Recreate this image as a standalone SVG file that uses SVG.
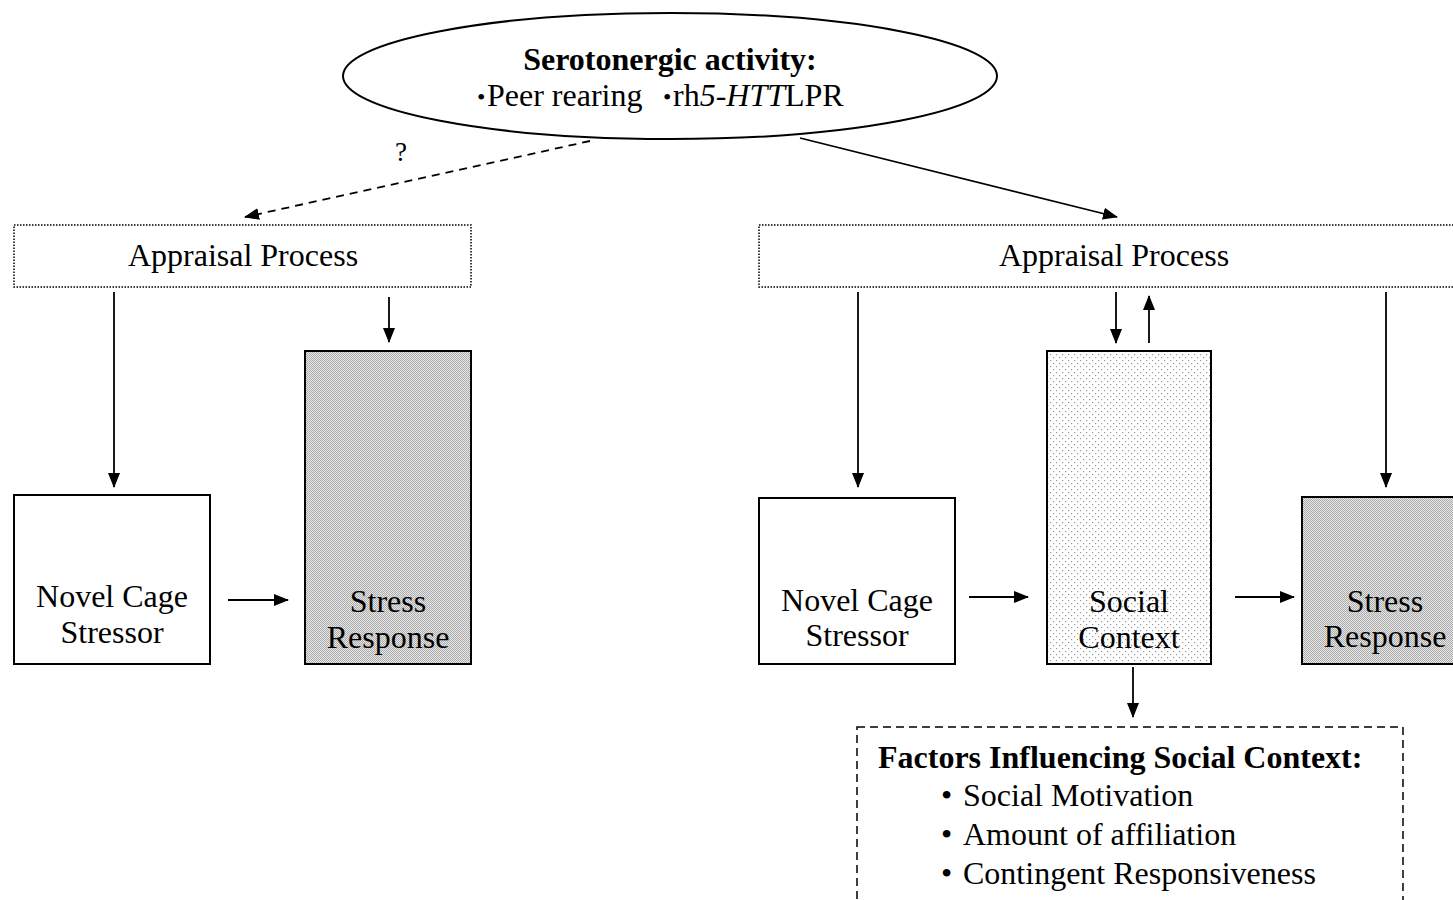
<svg xmlns="http://www.w3.org/2000/svg" width="1453" height="900" viewBox="0 0 1453 900">
<style>
text{font-family:"Liberation Serif","Times New Roman",serif;fill:#000}
.t{font-size:32px;text-anchor:middle}
.f{font-size:32px}
.b{font-weight:bold}
.box{stroke:#000;stroke-width:2}
.dot{fill:#fff;stroke:#000;stroke-width:1.5;stroke-dasharray:1.5 1.5}
.con{stroke:#000;stroke-width:1.8;fill:none}
</style>
<defs>
<marker id="ah" markerUnits="userSpaceOnUse" markerWidth="15" markerHeight="15" viewBox="0 0 15 15" refX="14" refY="7.5" orient="auto">
<path d="M0,1.5 L15,7.5 L0,13.5 Z" fill="#000"/>
</marker>
<pattern id="gray" width="2" height="2" patternUnits="userSpaceOnUse">
<rect width="2" height="2" fill="#e6e6e6"/>
<rect width="1" height="1" fill="#acacac"/>
<rect x="1" y="1" width="1" height="1" fill="#acacac"/>
</pattern>
<pattern id="dots" width="6" height="6" patternUnits="userSpaceOnUse">
<rect width="6" height="6" fill="#fff"/>
<rect x="0" y="0" width="1.2" height="1.2" fill="#999"/>
<rect x="3" y="3" width="1.2" height="1.2" fill="#999"/>
</pattern>
</defs>
<rect width="1453" height="900" fill="#fff"/>

<g id="connectors">
<line class="con" x1="590" y1="141" x2="245" y2="217" stroke-dasharray="8 6" marker-end="url(#ah)"/>
<line class="con" x1="800" y1="138" x2="1117" y2="217" marker-end="url(#ah)"/>
<line class="con" x1="114" y1="292" x2="114" y2="487" marker-end="url(#ah)"/>
<line class="con" x1="389" y1="297" x2="389" y2="342" marker-end="url(#ah)"/>
<line class="con" x1="228" y1="600" x2="288" y2="600" marker-end="url(#ah)"/>
<line class="con" x1="858" y1="292" x2="858" y2="487" marker-end="url(#ah)"/>
<line class="con" x1="1116" y1="292" x2="1116" y2="343" marker-end="url(#ah)"/>
<line class="con" x1="1149" y1="343" x2="1149" y2="296" marker-end="url(#ah)"/>
<line class="con" x1="1386" y1="292" x2="1386" y2="487" marker-end="url(#ah)"/>
<line class="con" x1="969" y1="597" x2="1028" y2="597" marker-end="url(#ah)"/>
<line class="con" x1="1235" y1="597" x2="1294" y2="597" marker-end="url(#ah)"/>
<line class="con" x1="1133" y1="667" x2="1133" y2="717" marker-end="url(#ah)"/>
<text x="401" y="161" style="font-size:27px" text-anchor="middle">?</text>
</g>

<g id="serotonergic">
<ellipse cx="670" cy="76" rx="327" ry="63" fill="#fff" stroke="#000" stroke-width="2"/>
<text x="670" y="70" class="t b">Serotonergic activity:</text>
<text y="106" class="f"><tspan x="477" font-size="24" dy="-1">•</tspan><tspan x="487" dy="1">Peer rearing</tspan><tspan x="663" font-size="24" dy="-1">•</tspan><tspan x="673" dy="1">rh</tspan><tspan font-style="italic">5-HTT</tspan><tspan>LPR</tspan></text>
</g>

<g id="appraisal-left">
<rect class="dot" x="14" y="225" width="457" height="62"/>
<text x="243" y="266" class="t">Appraisal Process</text>
</g>

<g id="appraisal-right">
<rect class="dot" x="759" y="225" width="700" height="62"/>
<text x="1114" y="266" class="t">Appraisal Process</text>
</g>

<g id="novel-left">
<rect class="box" x="14" y="495" width="196" height="169" fill="#fff"/>
<text x="112" y="607" class="t">Novel Cage</text>
<text x="112" y="643" class="t">Stressor</text>
</g>

<g id="stress-left">
<rect class="box" x="305" y="351" width="166" height="313" fill="url(#gray)"/>
<text x="388" y="612" class="t">Stress</text>
<text x="388" y="648" class="t">Response</text>
</g>

<g id="novel-right">
<rect class="box" x="759" y="498" width="196" height="166" fill="#fff"/>
<text x="857" y="611" class="t">Novel Cage</text>
<text x="857" y="646" class="t">Stressor</text>
</g>

<g id="social-context">
<rect class="box" x="1047" y="351" width="164" height="313" fill="url(#dots)"/>
<text x="1129" y="612" class="t">Social</text>
<text x="1129" y="648" class="t">Context</text>
</g>

<g id="stress-right">
<rect class="box" x="1302" y="497" width="160" height="167" fill="url(#gray)"/>
<text x="1385" y="612" class="t">Stress</text>
<text x="1385" y="647" class="t">Response</text>
</g>

<g id="factors">
<rect x="857" y="727" width="546" height="190" fill="#fff" stroke="#000" stroke-width="1.5" stroke-dasharray="8 5"/>
<text x="878" y="768" class="f b">Factors Influencing Social Context:</text>
<text y="806" class="f"><tspan x="941">•</tspan><tspan x="963">Social Motivation</tspan></text>
<text y="845" class="f"><tspan x="941">•</tspan><tspan x="963">Amount of affiliation</tspan></text>
<text y="884" class="f"><tspan x="941">•</tspan><tspan x="963">Contingent Responsiveness</tspan></text>
</g>
</svg>
